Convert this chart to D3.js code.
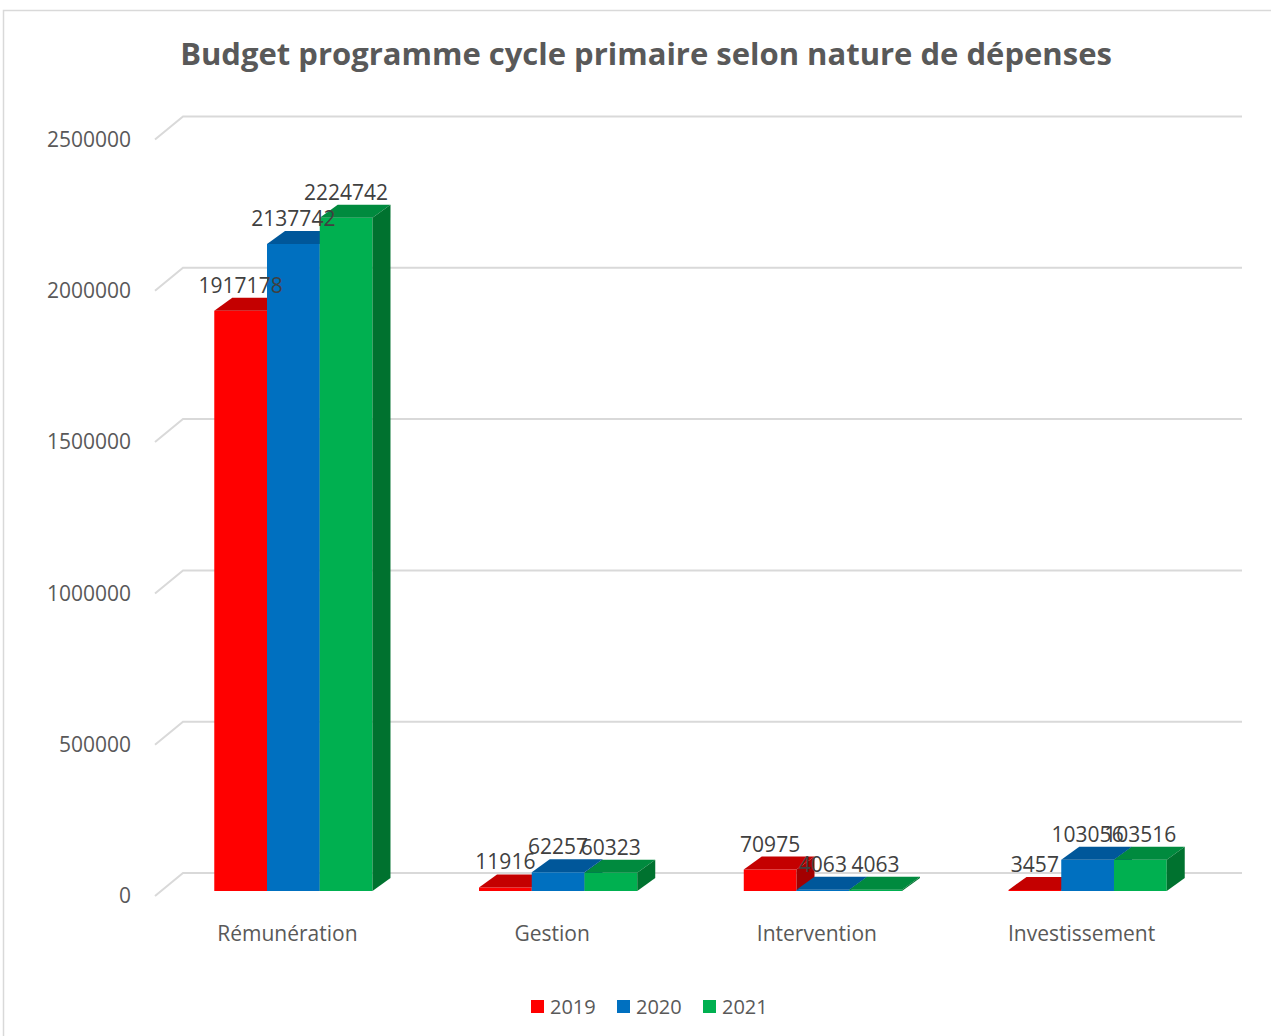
<!DOCTYPE html>
<html>
<head>
<meta charset="utf-8">
<script src="https://cdn.jsdelivr.net/npm/d3@7"></script>
<style>
  html, body { margin: 0; padding: 0; background: #fff; }
  svg { display: block; font-family: "Open Sans", sans-serif; }
</style>
</head>
<body>
<svg id="chart" width="1271" height="1036"></svg>
<script>
// data
const categories = ['Rémunération', 'Gestion', 'Intervention', 'Investissement'];
const years = ['2019', '2020', '2021'];
const values2019 = [1917178, 11916, 70975, 3457];
const values2020 = [2137742, 62257, 4063, 103056];
const values2021 = [2224742, 60323, 4063, 103516];
const yTicks = [0, 500000, 1000000, 1500000, 2000000, 2500000];

const series = [values2019, values2020, values2021];
const colors = [
  { front: '#ff0000', top: '#c40000', side: '#a30000' },
  { front: '#0070c0', top: '#00579a', side: '#004c88' },
  { front: '#00b050', top: '#008a3e', side: '#00722f' }
];

const svg = d3.select('#chart');

// chart frame
svg.append('rect')
  .attr('x', 3.5).attr('y', 10.5)
  .attr('width', 1300).attr('height', 1060)
  .attr('fill', 'none')
  .attr('stroke', '#d9d9d9')
  .attr('stroke-width', 1.5);

svg.append('text')
  .attr('x', 646).attr('y', 65)
  .attr('text-anchor', 'middle')
  .attr('font-size', 31)
  .attr('font-weight', 700)
  .attr('fill', '#595959')
  .text('Budget programme cycle primaire selon nature de dépenses');

// front floor plane scales; the wall and bars are offset into depth
const x0 = d3.scaleBand().domain(categories).range([155, 1214]);
const x1 = d3.scaleBand().domain(years).range([0, x0.bandwidth()]).paddingOuter(1.01);
const y = d3.scaleLinear().domain([0, 2500000]).range([896, 139.5]);

const wall = { dx: 28, dy: -23 };
const barFront = { dx: 6, dy: -5 };
const depth = { dx: 18, dy: -13 };

// gridlines on back wall + side wall diagonals
const grid = svg.append('g').attr('stroke', '#d9d9d9').attr('stroke-width', 2).attr('fill', 'none');
yTicks.forEach(t => {
  const yy = y(t);
  grid.append('path')
    .attr('d', `M${x0.range()[0]},${yy}L${x0.range()[0] + wall.dx},${yy + wall.dy}L${x0.range()[1] + wall.dx},${yy + wall.dy}`);
});

// y labels
svg.append('g')
  .selectAll('text')
  .data(yTicks)
  .join('text')
  .attr('x', 131)
  .attr('y', d => y(d))
  .attr('dy', '0.35em')
  .attr('text-anchor', 'end')
  .attr('font-size', 21)
  .attr('fill', '#595959')
  .text(d => d);

// category labels
svg.append('g')
  .selectAll('text')
  .data(categories)
  .join('text')
  .attr('x', d => x0(d) + x0.bandwidth() / 2)
  .attr('y', 934)
  .attr('dy', '0.35em')
  .attr('text-anchor', 'middle')
  .attr('font-size', 21)
  .attr('fill', '#595959')
  .text(d => d);

// bars: painter's order left to right
const bars = [];
categories.forEach((c, ci) => {
  years.forEach((yr, si) => {
    const v = series[si][ci];
    const xl = x0(c) + x1(yr) + barFront.dx;
    const xr = xl + x1.bandwidth();
    const yb = y(0) + barFront.dy;
    const yt = y(v) + barFront.dy;
    bars.push({ v, xl, xr, yb, yt, col: colors[si] });
  });
});

const barG = svg.append('g');
bars.forEach(b => {
  const g = barG.append('g');
  g.append('path')
    .attr('d', `M${b.xl},${b.yb}L${b.xr},${b.yb}L${b.xr},${b.yt}L${b.xl},${b.yt}Z`)
    .attr('fill', b.col.front);
  g.append('path')
    .attr('d', `M${b.xl},${b.yt}L${b.xr},${b.yt}L${b.xr + depth.dx},${b.yt + depth.dy}L${b.xl + depth.dx},${b.yt + depth.dy}Z`)
    .attr('fill', b.col.top);
  g.append('path')
    .attr('d', `M${b.xr},${b.yb}L${b.xr},${b.yt}L${b.xr + depth.dx},${b.yt + depth.dy}L${b.xr + depth.dx},${b.yb + depth.dy}Z`)
    .attr('fill', b.col.side);
});

// value labels
svg.append('g')
  .selectAll('text')
  .data(bars)
  .join('text')
  .attr('x', d => (d.xl + d.xr) / 2)
  .attr('y', d => d.yt - 18)
  .attr('text-anchor', 'middle')
  .attr('font-size', 21)
  .attr('fill', '#404040')
  .text(d => d.v);

// legend
const legend = svg.append('g').attr('transform', 'translate(531,1000)');
const item = legend.selectAll('g')
  .data(years)
  .join('g')
  .attr('transform', (d, i) => `translate(${i * 86},0)`);
item.append('rect')
  .attr('width', 13).attr('height', 13)
  .attr('fill', (d, i) => colors[i].front);
item.append('text')
  .attr('x', 19).attr('y', 6.5)
  .attr('dy', '0.35em')
  .attr('font-size', 20)
  .attr('fill', '#595959')
  .text(d => d);
</script>
</body>
</html>
